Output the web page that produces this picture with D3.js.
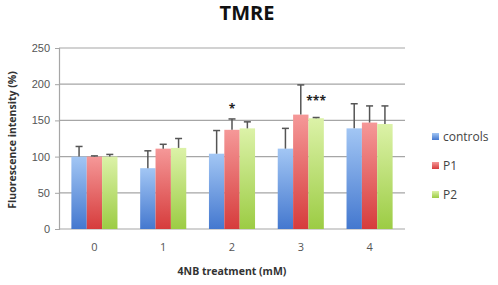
<!DOCTYPE html>
<html>
<head>
<meta charset="utf-8">
<script src="https://cdn.jsdelivr.net/npm/d3@7"></script>
<style>
  body { margin: 0; background: #fff; }
  svg { font-family: "Open Sans", "DejaVu Sans", sans-serif; }
</style>
</head>
<body>
<div id="chart"></div>
<script>
// data
const doses = ["0", "1", "2", "3", "4"];
const seriesNames = ["controls", "P1", "P2"];
const controls = [100, 84, 104, 111, 139];
const p1 = [100, 111, 137, 158, 147];
const p2 = [100, 112, 139, 153, 145];
const controlsErr = [14, 24, 32, 28, 34];
const p1Err = [1, 6, 15, 41, 23];
const p2Err = [3, 13, 9, 1, 25];
const yTicks = [0, 50, 100, 150, 200, 250];
const marks = [{ dose: "2", series: "P1", text: "*" }, { dose: "3", series: "P2", text: "***" }];

const width = 498;
const height = 285;
const margin = { top: 48, right: 93, bottom: 56, left: 59 };

const rows = doses.map((d, i) => ({
  dose: d,
  values: [
    { name: "controls", value: controls[i], err: controlsErr[i] },
    { name: "P1", value: p1[i], err: p1Err[i] },
    { name: "P2", value: p2[i], err: p2Err[i] }
  ]
}));

const svg = d3.select("#chart").append("svg").attr("width", width).attr("height", height);

const defs = svg.append("defs");
const grads = {
  controls: ["#a2c6f4", "#4478cf"],
  P1: ["#f59898", "#d63c3c"],
  P2: ["#dcf2a8", "#9ccc44"]
};
Object.entries(grads).forEach(([k, c]) => {
  const g = defs.append("linearGradient").attr("id", "g-" + k).attr("x1", 0).attr("y1", 0).attr("x2", 0).attr("y2", 1);
  g.append("stop").attr("offset", "0%").attr("stop-color", c[0]);
  g.append("stop").attr("offset", "100%").attr("stop-color", c[1]);
});

const x0 = d3.scaleBand().domain(doses).range([margin.left, width - margin.right]).paddingInner(0.33).paddingOuter(0.18);
const x1 = d3.scaleBand().domain(seriesNames).range([0, x0.bandwidth()]);
const y = d3.scaleLinear().domain([0, 250]).range([height - margin.bottom, margin.top]);

// grid
svg.append("g")
  .selectAll("line")
  .data(yTicks)
  .join("line")
  .attr("x1", margin.left)
  .attr("x2", width - margin.right)
  .attr("y1", (d) => y(d))
  .attr("y2", (d) => y(d))
  .attr("stroke", "#a6a6a6")
  .attr("stroke-width", 1.2);

// y axis
const yAxis = d3.axisLeft(y).tickValues(yTicks).tickSize(4).tickPadding(5);
const gy = svg.append("g").attr("transform", `translate(${margin.left},0)`).call(yAxis);
gy.select(".domain").attr("stroke", "#a6a6a6").attr("stroke-width", 1.2);
gy.selectAll(".tick line").attr("stroke", "#a6a6a6");
gy.selectAll("text").attr("fill", "#555").attr("font-size", 11);

// x tick labels
svg.append("g")
  .selectAll("text")
  .data(doses)
  .join("text")
  .attr("x", (d) => x0(d) + x0.bandwidth() / 2)
  .attr("y", height - margin.bottom + 22)
  .attr("text-anchor", "middle")
  .attr("font-size", 11)
  .attr("fill", "#555")
  .text((d) => d);

// bars
const groups = svg.append("g")
  .selectAll("g")
  .data(rows)
  .join("g")
  .attr("transform", (d) => `translate(${x0(d.dose)},0)`);

groups.selectAll("rect")
  .data((d) => d.values)
  .join("rect")
  .attr("x", (d) => x1(d.name))
  .attr("y", (d) => y(d.value))
  .attr("width", x1.bandwidth())
  .attr("height", (d) => y(0) - y(d.value))
  .attr("fill", (d) => `url(#g-${d.name})`);

// error bars (upper only)
const eb = groups.selectAll("g.err")
  .data((d) => d.values)
  .join("g")
  .attr("class", "err")
  .attr("stroke", "#555")
  .attr("stroke-width", 1.5);
eb.append("line")
  .attr("x1", (d) => x1(d.name) + x1.bandwidth() / 2)
  .attr("x2", (d) => x1(d.name) + x1.bandwidth() / 2)
  .attr("y1", (d) => y(d.value))
  .attr("y2", (d) => y(d.value + d.err));
eb.append("line")
  .attr("x1", (d) => x1(d.name) + x1.bandwidth() / 2 - 3.5)
  .attr("x2", (d) => x1(d.name) + x1.bandwidth() / 2 + 3.5)
  .attr("y1", (d) => y(d.value + d.err))
  .attr("y2", (d) => y(d.value + d.err));

// significance marks
svg.append("g")
  .selectAll("text")
  .data(marks)
  .join("text")
  .attr("x", (d) => x0(d.dose) + x1(d.series) + x1.bandwidth() / 2)
  .attr("y", (d) => {
    const i = doses.indexOf(d.dose);
    const v = d.series === "P1" ? p1[i] + p1Err[i] : p2[i] + p2Err[i];
    return y(v);
  })
  .attr("dy", (d) => (d.text === "*" ? -6 : -13))
  .attr("text-anchor", "middle")
  .attr("font-size", 12)
  .attr("font-weight", "bold")
  .attr("fill", "#222")
  .text((d) => d.text);

// legend
const legend = svg.append("g").attr("transform", "translate(432,133)");
const li = legend.selectAll("g")
  .data(seriesNames)
  .join("g")
  .attr("transform", (d, i) => `translate(0,${i * 29})`);
li.append("rect").attr("width", 7).attr("height", 7).attr("fill", (d) => `url(#g-${d})`);
li.append("text")
  .attr("x", 11)
  .attr("y", 8)
  .attr("font-size", 12)
  .attr("fill", "#444")
  .text((d) => d);

// title and axis labels
svg.append("text")
  .attr("x", 247)
  .attr("y", 20)
  .attr("text-anchor", "middle")
  .attr("font-size", 20)
  .attr("font-weight", "bold")
  .attr("fill", "#111")
  .text("TMRE");

svg.append("text")
  .attr("x", 232)
  .attr("y", 275)
  .attr("text-anchor", "middle")
  .attr("font-size", 10.5)
  .attr("font-weight", "bold")
  .attr("fill", "#333")
  .text("4NB treatment (mM)");

svg.append("text")
  .attr("transform", "translate(16,140) rotate(-90)")
  .attr("text-anchor", "middle")
  .attr("font-size", 10.5)
  .attr("font-weight", "bold")
  .attr("fill", "#333")
  .text("Fluorescence intensity (%)");
</script>
</body>
</html>
